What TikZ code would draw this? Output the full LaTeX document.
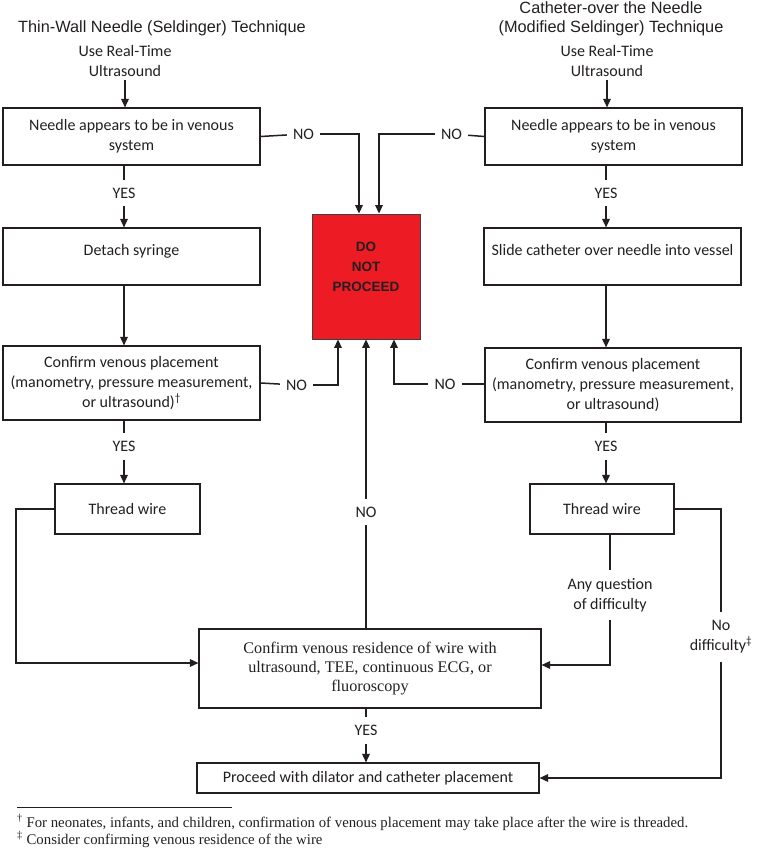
\documentclass[tikz,border=0pt]{standalone}
\usepackage{fontspec}
\setmainfont{Carlito}
\newfontfamily\headfont{Liberation Sans}
\newfontfamily\notefont{Liberation Serif}
\usetikzlibrary{arrows.meta, positioning}
\definecolor{stopred}{RGB}{237,28,36}
\definecolor{ink}{RGB}{35,31,32}
\tikzset{
>={Triangle[length=8.5pt,width=7.5pt]}, % filled arrow heads
every node/.style={align=center, font=\fontsize{16}{20}\selectfont, text=ink},
flowbox/.style={draw=ink, line width=1.1pt, inner sep=1pt, minimum width=257pt},
flowline/.style={draw=ink, line width=1.5pt},
answer/.style={inner xsep=6pt, inner ysep=8pt},
heading/.style={font=\headfont\fontsize{16.3}{19}\selectfont, inner sep=0pt},
}

\begin{document}
\begin{tikzpicture}[x=1pt, y=-1pt]
        \useasboundingbox (0,0) rectangle (756,850);

        % headings
        \node[heading, anchor=west] (titleL) at (18,28) {Thin-Wall Needle (Seldinger) Technique};
        \node[heading] (titleR) at (611,19) {Catheter-over the Needle\\(Modified Seldinger) Technique};
        \node (usL) at (125,61) {Use Real-Time\\Ultrasound};
        \node (usR) at (607,61) {Use Real-Time\\Ultrasound};

        % left column
        \node[flowbox, minimum height=57pt] (b1L) at (131.5,136.5) {Needle appears to be in venous\\system};
        \node[flowbox, minimum height=57pt] (b2L) at (131.5,256.5) {Detach syringe\\[-6pt]~};
        \node[flowbox, minimum height=74pt] (b3L) at (131.5,383) {Confirm venous placement\\(manometry, pressure measurement,\\or ultrasound)\textsuperscript{\textdagger}};
        \node[flowbox, minimum width=145pt, minimum height=50pt] (twL) at (127.5,509) {Thread wire};

        % right column
        \node[flowbox, minimum height=57pt] (b1R) at (613.5,136.5) {Needle appears to be in venous\\system};
        \node[flowbox, minimum height=57pt] (b2R) at (612.5,256.5) {Slide catheter over needle into vessel\\[-6pt]~};
        \node[flowbox, minimum width=256pt, minimum height=74pt] (b3R) at (613,385) {Confirm venous placement\\(manometry, pressure measurement,\\or ultrasound)};
        \node[flowbox, minimum width=144pt, minimum height=50pt] (twR) at (602,509) {Thread wire};

        % stop box
        \node[draw=black!75, fill=stopred, line width=0.8pt, minimum width=108pt, minimum height=125pt,
              font=\headfont\bfseries\fontsize{13.5}{20}\selectfont] (red) at (366,276.5) {DO\\NOT\\PROCEED\\~};

        % bottom boxes
        \node[flowbox, minimum width=342pt, minimum height=79pt, font=\notefont\fontsize{16.2}{19.3}\selectfont]
              (cw) at (370,668.5) {Confirm venous residence of wire with\\ultrasound, TEE, continuous ECG, or\\fluoroscopy};
        \node[flowbox, minimum width=342pt, minimum height=30pt] (pr) at (368,778) {Proceed with dilator and catheter placement};

        % answers
        \node[answer] (yes1L) at (124,193) {YES};
        \node[answer] (yes2L) at (124,446.7) {YES};
        \node[answer] (yes1R) at (606,193) {YES};
        \node[answer] (yes2R) at (606,446.7) {YES};
        \node[answer] (yes3) at (366,730.5) {YES};
        \node[answer] (no1L) at (303.5,134) {NO};
        \node[answer] (no1R) at (451.5,134) {NO};
        \node[answer] (no2L) at (296.5,385) {NO};
        \node[answer] (no2R) at (445,384) {NO};
        \node[answer] (noMid) at (366,512) {NO};
        \node[answer] (anyq) at (610,595) {Any question\\of difficulty};
        \node[answer] (nodiff) at (721,637) {No\\difficulty\textsuperscript{\textdaggerdbl}};
        \coordinate (railL) at (16,663);

        % left connectors
        \draw[flowline, ->] (usL.south) -- (usL.south |- b1L.north);
        \draw[flowline] (b1L.south -| yes1L) -- (yes1L);
        \draw[flowline, ->] (yes1L) -- (yes1L |- b2L.north);
        \draw[flowline, ->] (b2L.south -| yes1L) -- (b3L.north -| yes1L);
        \draw[flowline] (b3L.south -| yes2L) -- (yes2L);
        \draw[flowline, ->] (yes2L) -- (yes2L |- twL.north);
        \draw[flowline, ->] (twL.west) -| (railL) -- (railL -| cw.west);

        % right connectors
        \draw[flowline, ->] (usR.south) -- (usR.south |- b1R.north);
        \draw[flowline] (b1R.south -| yes1R) -- (yes1R);
        \draw[flowline, ->] (yes1R) -- (yes1R |- b2R.north);
        \draw[flowline, ->] (b2R.south -| yes1R) -- (b3R.north -| yes1R);
        \draw[flowline] (b3R.south -| yes2R) -- (yes2R);
        \draw[flowline, ->] (yes2R) -- (yes2R |- twR.north);
        \draw[flowline] (twR.south -| anyq) -- (anyq);
        \draw[flowline, ->] (anyq) |- ([yshift=3.5pt]cw.east);
        \draw[flowline] (twR.east) -| (nodiff);
        \draw[flowline, ->] (nodiff) |- (pr.east);

        % into the stop box
        \draw[flowline] (b1L.east) -- (no1L);
        \draw[flowline, ->] (no1L) -| ([xshift=-7pt]red.north);
        \draw[flowline] (b1R.west) -- (no1R);
        \draw[flowline, ->] (no1R) -| ([xshift=13pt]red.north);
        \draw[flowline] (b3L.east) -- (no2L);
        \draw[flowline, ->] (no2L) -| ([xshift=-28pt]red.south);
        \draw[flowline] (b3R.west |- no2R) -- (no2R);
        \draw[flowline, ->] (no2R) -| ([xshift=28pt]red.south);
        \draw[flowline] (noMid |- cw.north) -- (noMid);
        \draw[flowline, ->] (noMid) -- (red.south);

        % bottom
        \draw[flowline] (cw.south -| yes3) -- (yes3);
        \draw[flowline, ->] (yes3) -- (yes3 |- pr.north);

        % footnotes
        \draw[ink, line width=0.8pt] (17,807) -- (232,807);
        \node[anchor=base west, inner sep=0pt, font=\notefont\fontsize{14.8}{17}\selectfont] (fn1) at (17,827)
              {\textsuperscript{\textdagger} For neonates, infants, and children, confirmation of venous placement may take place after the wire is threaded.};
        \node[anchor=base west, inner sep=0pt, font=\notefont\fontsize{14.8}{17}\selectfont] (fn2) at (17,844)
              {\textsuperscript{\textdaggerdbl} Consider confirming venous residence of the wire};
      \end{tikzpicture}
\end{document}
